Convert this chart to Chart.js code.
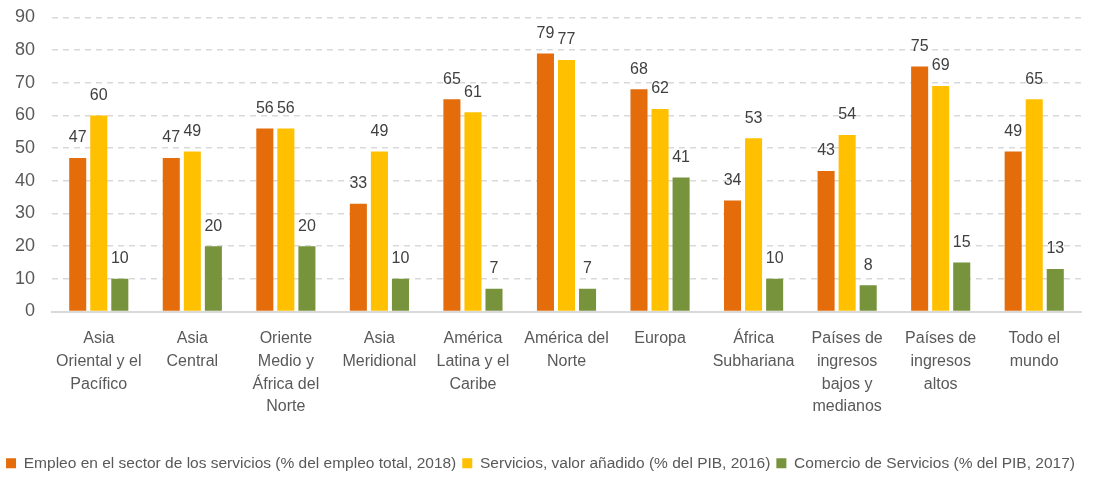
<!DOCTYPE html>
<html>
<head>
<meta charset="utf-8">
<script src="https://cdn.jsdelivr.net/npm/chart.js@4/dist/chart.umd.min.js"></script>
<style>
  html, body { margin: 0; padding: 0; background: #fff; }
  #wrap { width: 1097px; height: 481px; }
</style>
</head>
<body>
<div id="wrap"><canvas id="chart"></canvas></div>
<script>
var categories = [
  ['Asia', 'Oriental y el', 'Pacífico'],
  ['Asia', 'Central'],
  ['Oriente', 'Medio y', 'África del', 'Norte'],
  ['Asia', 'Meridional'],
  ['América', 'Latina y el', 'Caribe'],
  ['América del', 'Norte'],
  ['Europa'],
  ['África', 'Subhariana'],
  ['Países de', 'ingresos', 'bajos y', 'medianos'],
  ['Países de', 'ingresos', 'altos'],
  ['Todo el', 'mundo']
];
var empleo = [47, 47, 56, 33, 65, 79, 68, 34, 43, 75, 49];
var valorAnadido = [60, 49, 56, 49, 61, 77, 62, 53, 54, 69, 65];
var comercio = [10, 20, 20, 10, 7, 7, 41, 10, 8, 15, 13];
var seriesNames = [
  'Empleo en el sector de los servicios (% del empleo total, 2018)',
  'Servicios, valor añadido (% del PIB, 2016)',
  'Comercio de Servicios (% del PIB, 2017)'
];

var sans = '"Liberation Sans", Arial, sans-serif';

// draws the value above each bar
var valueLabels = {
  id: 'valueLabels',
  afterDatasetsDraw: function(chart) {
    var ctx = chart.ctx;
    ctx.save();
    ctx.font = '16px ' + sans;
    ctx.fillStyle = '#404040';
    ctx.textAlign = 'center';
    ctx.textBaseline = 'bottom';
    chart.data.datasets.forEach(function(ds, i) {
      chart.getDatasetMeta(i).data.forEach(function(bar, j) {
        ctx.fillText(ds.data[j], bar.x, bar.y - 12);
      });
    });
    ctx.restore();
  }
};

var config = {
  type: 'bar',
  data: {
    labels: categories,
    datasets: [{
      label: seriesNames[0],
      data: empleo,
      backgroundColor: '#E46C0A'
    }, {
      label: seriesNames[1],
      data: valorAnadido,
      backgroundColor: '#FFC000'
    }, {
      label: seriesNames[2],
      data: comercio,
      backgroundColor: '#77933C'
    }]
  },
  options: {
    responsive: true,
    maintainAspectRatio: false,
    animation: false,
    categoryPercentage: 0.675,
    barPercentage: 0.81,
    layout: {
      autoPadding: false,
      padding: { top: 16, right: 16, left: 0, bottom: 0 }
    },
    scales: {
      x: {
        afterFit: function(scale) { scale.height = 138; },
        grid: { display: false, drawTicks: false },
        border: { color: '#D9D9D9', width: 2 },
        ticks: {
          color: '#595959',
          font: { family: sans, size: 16, lineHeight: 1.42 },
          padding: 16,
          maxRotation: 0,
          autoSkip: false
        }
      },
      y: {
        min: 0,
        max: 90,
        afterFit: function(scale) { scale.width = 52; },
        grid: { color: '#D9D9D9', lineWidth: 1.5, drawTicks: false },
        border: { display: false, dash: [6, 5] },
        ticks: {
          stepSize: 10,
          color: '#595959',
          // tiny lineHeight keeps the top gridline close to the canvas top
          font: { family: sans, size: 18, lineHeight: 0.05 },
          padding: 17
        }
      }
    },
    plugins: {
      legend: {
        position: 'bottom',
        labels: {
          color: '#595959',
          font: { family: sans, size: 15.5 },
          boxWidth: 10,
          boxHeight: 10,
          padding: 6
        }
      },
      tooltip: { enabled: false }
    }
  },
  plugins: [valueLabels]
};

window.onload = function() {
  var ctx = document.getElementById('chart').getContext('2d');
  window.myChart = new Chart(ctx, config);
};
</script>
</body>
</html>
